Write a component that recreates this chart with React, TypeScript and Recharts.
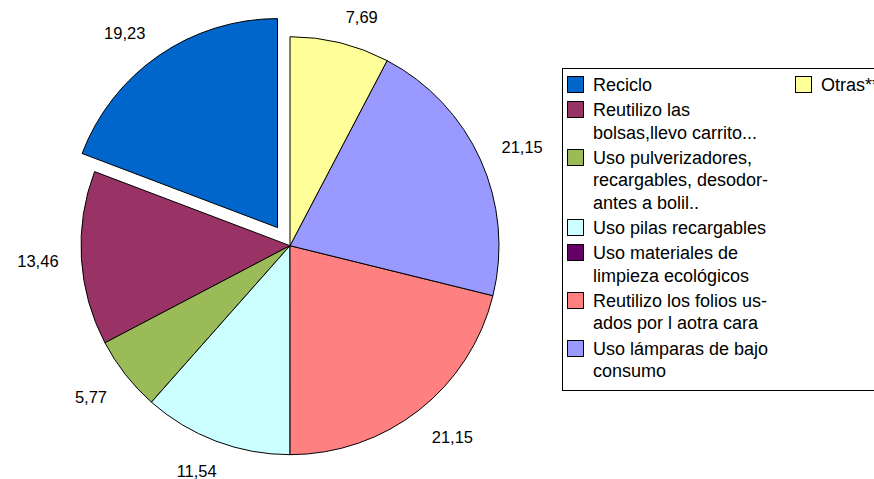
import { PieChart, Pie, Cell, Legend } from "recharts";

const categories = [
  "Reciclo",
  "Reutilizo las bolsas,llevo carrito...",
  "Uso pulverizadores, recargables, desodorantes a bolil..",
  "Uso pilas recargables",
  "Uso materiales de limpieza ecológicos",
  "Reutilizo los folios usados por l aotra cara",
  "Uso lámparas de bajo consumo",
  "Otras**",
];

// legend text as it wraps in the original
const legendLines = [
  ["Reciclo"],
  ["Reutilizo las", "bolsas,llevo carrito..."],
  ["Uso pulverizadores,", "recargables, desodor-", "antes a bolil.."],
  ["Uso pilas recargables"],
  ["Uso materiales de", "limpieza ecológicos"],
  ["Reutilizo los folios us-", "ados por l aotra cara"],
  ["Uso lámparas de bajo", "consumo"],
  ["Otras**"],
];

const values = [19.23, 13.46, 5.77, 11.54, 0, 21.15, 21.15, 7.69];

const colors = ["#0066CC", "#993366", "#9BBB59", "#CCFFFF", "#660066", "#FF8080", "#9999FF", "#FFFF99"];

const explodedIndex = 0;

const W = 874;
const H = 479;
const CX = 290;
const CY = 245.7;
const R = 209;
const EXPLODE = 22;
const FONT = "'Liberation Sans', Arial, sans-serif";
const RAD = Math.PI / 180;

const data = categories.map((name, i) => ({ name, value: values[i] }));
const total = values.reduce((a, b) => a + b, 0);

// bisector of the exploded slice (counter-clockwise from 12 o'clock)
const before = values.slice(0, explodedIndex).reduce((a, b) => a + b, 0);
const explodeMid = 90 + ((before + values[explodedIndex] / 2) / total) * 360;
const ex = CX + EXPLODE * Math.cos(explodeMid * RAD);
const ey = CY - EXPLODE * Math.sin(explodeMid * RAD);

const fmt = (v: number) => v.toFixed(2).replace(".", ",");
const clamp = (v: number) => Math.max(-1, Math.min(1, v));

const renderLabel = (only: number | null) => (props: any) => {
  const { cx, cy, midAngle, outerRadius, value, index } = props;
  if (!value) return null;
  if (only !== null && index !== only) return null;
  if (only === null && index === explodedIndex) return null;
  const txt = fmt(value);
  const w = txt.length * 8.6;
  const c = Math.cos(midAngle * RAD);
  const s = Math.sin(midAngle * RAD);
  const r = outerRadius + 22;
  const upper = s > 0;
  // push the text box away from the pie, the way the office chart does
  const sx = clamp(c * (upper ? 4 : 1.5));
  const sy = clamp(s * 2);
  const x = cx + r * c + (sx * w) / 2;
  const y = cy - r * s - sy * (upper ? 4.5 : 9);
  return (
    <text
      x={x}
      y={y}
      textAnchor="middle"
      dominantBaseline="central"
      fontSize={16.5}
      fontFamily={FONT}
      fill="#000"
    >
      {txt}
    </text>
  );
};

const Swatch = ({ color }: { color: string }) => (
  <div
    style={{
      width: 15,
      height: 15,
      background: color,
      border: "1px solid #000",
      flex: "none",
      marginTop: 2,
      marginRight: 9,
      marginLeft: -1,
    }}
  />
);

const LegendItem = ({ i }: { i: number }) => (
  <div style={{ display: "flex", alignItems: "flex-start", marginBottom: 2.5 }}>
    <Swatch color={colors[i]} />
    <div>
      {legendLines[i].map((l, k) => (
        <div key={k} style={{ whiteSpace: "nowrap" }}>
          {l}
        </div>
      ))}
    </div>
  </div>
);

const renderLegend = () => (
  <div
    style={{
      boxSizing: "border-box",
      width: 340,
      height: 323,
      border: "1px solid #000",
      padding: "5px 0 0 5px",
      fontFamily: FONT,
      fontSize: 18,
      lineHeight: "22.6px",
      color: "#000",
      display: "flex",
      textAlign: "left",
    }}
  >
    <div style={{ width: 228 }}>
      {categories.slice(0, 7).map((_, i) => (
        <LegendItem key={i} i={i} />
      ))}
    </div>
    <div>
      <LegendItem i={7} />
    </div>
  </div>
);

export default function App() {
  return (
    <div style={{ position: "absolute", left: 0, top: 0, width: W, height: H, overflow: "hidden", background: "#fff" }}>
      <PieChart width={W} height={H} margin={{ top: 0, right: 0, bottom: 0, left: 0 }}>
        <Pie
          data={data}
          dataKey="value"
          nameKey="name"
          cx={CX}
          cy={CY}
          outerRadius={R}
          startAngle={90}
          endAngle={450}
          stroke="#000"
          strokeWidth={1}
          label={renderLabel(null)}
          labelLine={false}
          isAnimationActive={false}
        >
          {data.map((d, i) => (
            <Cell
              key={d.name}
              fill={i === explodedIndex ? "none" : colors[i]}
              stroke={i === explodedIndex || !d.value ? "none" : "#000"}
            />
          ))}
        </Pie>
        <Pie
          data={data}
          dataKey="value"
          nameKey="name"
          cx={ex}
          cy={ey}
          outerRadius={R}
          startAngle={90}
          endAngle={450}
          strokeWidth={1}
          label={renderLabel(explodedIndex)}
          labelLine={false}
          isAnimationActive={false}
        >
          {data.map((d, i) => (
            <Cell
              key={d.name}
              fill={i === explodedIndex ? colors[i] : "none"}
              stroke={i === explodedIndex ? "#000" : "none"}
            />
          ))}
        </Pie>
        <Legend
          content={renderLegend}
          wrapperStyle={{ left: 562, top: 68, width: 340, height: 323 }}
        />
      </PieChart>
    </div>
  );
}
